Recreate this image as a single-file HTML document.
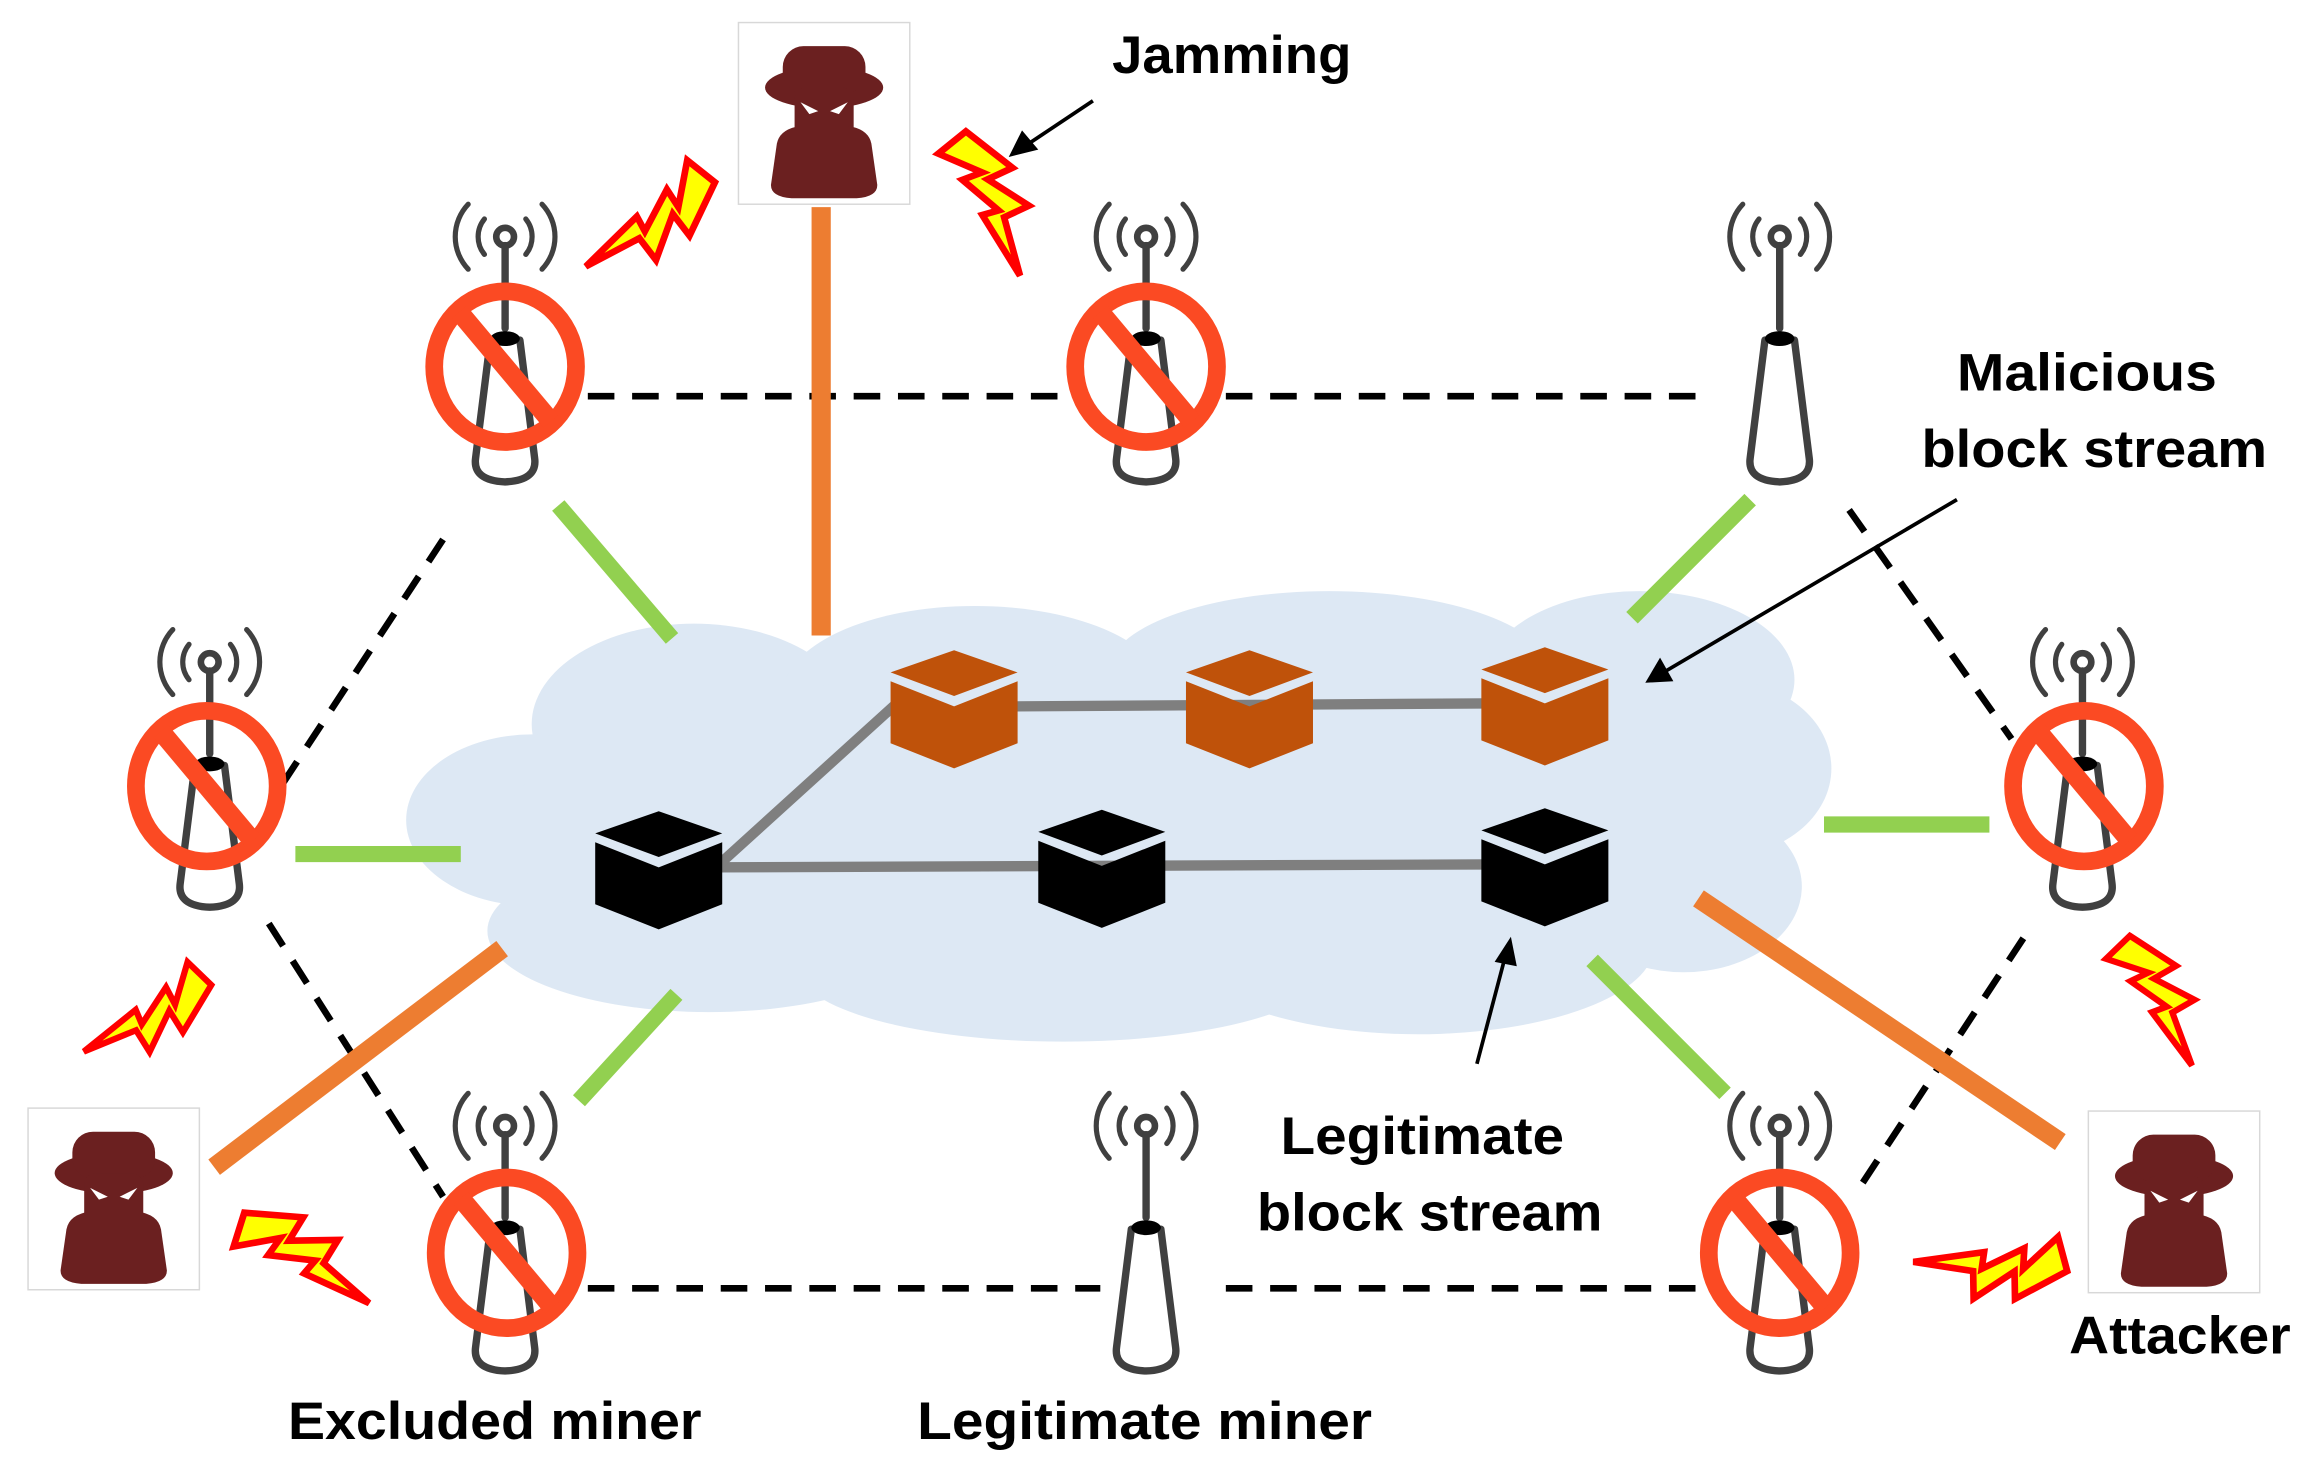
<!DOCTYPE html>
<html><head><meta charset="utf-8"><style>
html,body{margin:0;padding:0;background:#fff;}
svg{display:block;}
text{font-family:"Liberation Sans",sans-serif;font-weight:bold;fill:#000;}
</style></head><body>
<svg width="2304" height="1460" viewBox="0 0 1560 988" xmlns="http://www.w3.org/2000/svg">
<defs>
  <g id="tower" fill="none" stroke="#404040" stroke-linecap="round">
    <circle cx="0" cy="0" r="6" stroke-width="4.5"/>
    <path d="M-14,-12 A19,19 0 0 0 -14,12 M14,-12 A19,19 0 0 1 14,12" stroke-width="3.5"/>
    <path d="M-25,-22 A32,32 0 0 0 -25,22 M25,-22 A32,32 0 0 1 25,22" stroke-width="3.5"/>
    <line x1="0" y1="6" x2="0" y2="62" stroke-width="5"/>
    <path d="M-10,70 L-20,150 Q-22,165 0,166 Q22,165 20,150 L10,70" stroke-width="5" stroke-linejoin="round"/>
    <ellipse cx="0" cy="69" rx="10" ry="5" fill="#000" stroke="none"/>
  </g>
  <g id="ban">
    <ellipse cx="0" cy="0" rx="48" ry="51" fill="none" stroke="#fb4a23" stroke-width="12"/>
    <line x1="-31" y1="-37" x2="31" y2="37" stroke="#fb4a23" stroke-width="13"/>
  </g>
  <g id="spy" fill="#6b2020">
    <rect x="0" y="0" width="116" height="123" fill="#fff" stroke="#d8d8d8" stroke-width="1"/>
    <ellipse cx="58" cy="44" rx="40" ry="14"/>
    <rect x="30" y="16" width="56" height="32" rx="14"/>
    <rect x="38" y="44" width="40" height="36" rx="8"/>
    <path d="M26,82 Q28,72 42,70 L74,70 Q88,72 90,82 L94,110 Q94,118 80,119 L36,119 Q22,118 22,110 Z"/>
    <path d="M42,54 L54,60 L48,62 Z M74,54 L62,60 L68,62 Z" fill="#fff"/>
  </g>
  <polygon id="bolt" points="0,-12 26,-18 23,-6 44,-13 41,-1 66,10 34,6 37,-1 16,3 19,-6 0,4" fill="#ffff00" stroke="#ff0000" stroke-width="3" stroke-linejoin="miter"/>
</defs>

<!-- cloud -->
<g fill="#dde8f4">
  <ellipse cx="470" cy="490" rx="110" ry="68"/>
  <ellipse cx="660" cy="470" rx="130" ry="60"/>
  <ellipse cx="900" cy="455" rx="150" ry="55"/>
  <ellipse cx="1110" cy="460" rx="105" ry="60"/>
  <ellipse cx="1165" cy="520" rx="75" ry="60"/>
  <ellipse cx="1140" cy="600" rx="80" ry="58"/>
  <ellipse cx="960" cy="640" rx="160" ry="60"/>
  <ellipse cx="720" cy="655" rx="180" ry="50"/>
  <ellipse cx="480" cy="630" rx="150" ry="55"/>
  <ellipse cx="360" cy="555" rx="85" ry="58"/>
  <ellipse cx="760" cy="560" rx="420" ry="110"/>
</g>

<!-- dashed lines -->
<g stroke="#000" stroke-width="4.5" stroke-dasharray="18,12" fill="none">
  <line x1="398" y1="268" x2="735" y2="268"/>
  <line x1="830" y1="268" x2="1160" y2="268"/>
  <line x1="398" y1="872" x2="745" y2="872"/>
  <line x1="830" y1="872" x2="1160" y2="872"/>
  <line x1="300" y1="365" x2="185" y2="540"/>
  <line x1="182" y1="625" x2="300" y2="810"/>
  <line x1="1252" y1="345" x2="1362" y2="500"/>
  <line x1="1370" y1="635" x2="1255" y2="810"/>
</g>

<!-- green links -->
<g stroke="#92d050" stroke-width="11">
  <line x1="378" y1="342" x2="455" y2="432"/>
  <line x1="200" y1="578" x2="312" y2="578"/>
  <line x1="392" y1="745" x2="458" y2="673"/>
  <line x1="1185" y1="338" x2="1105" y2="418"/>
  <line x1="1235" y1="558" x2="1347" y2="558"/>
  <line x1="1078" y1="650" x2="1168" y2="740"/>
</g>
<!-- orange links -->
<g stroke="#ed7d31" stroke-width="13">
  <line x1="556" y1="140" x2="556" y2="430"/>
  <line x1="145" y1="790" x2="340" y2="642"/>
  <line x1="1150" y1="608" x2="1395" y2="773"/>
</g>

<!-- chain lines -->
<g stroke="#7f7f7f" stroke-width="7" fill="none">
  <line x1="485" y1="587" x2="1005" y2="585"/>
  <line x1="688" y1="478" x2="1005" y2="476"/>
  <line x1="488" y1="584" x2="606" y2="477"/>
</g>

<!-- cubes -->
<g>
  <g fill="#bf520a">
    <path d="M646,440 L689,455 L646,471 L603,455 Z M603,461 L646,478 L689,461 L689,503 L646,520 L603,503 Z"/>
    <path d="M846,440 L889,455 L846,471 L803,455 Z M803,461 L846,478 L889,461 L889,503 L846,520 L803,503 Z"/>
    <path d="M1046,438 L1089,453 L1046,469 L1003,453 Z M1003,459 L1046,476 L1089,459 L1089,501 L1046,518 L1003,501 Z"/>
  </g>
  <g fill="#000">
    <path d="M446,549 L489,564 L446,580 L403,564 Z M403,570 L446,587 L489,570 L489,612 L446,629 L403,612 Z"/>
    <path d="M746,548 L789,563 L746,579 L703,563 Z M703,569 L746,586 L789,569 L789,611 L746,628 L703,611 Z"/>
    <path d="M1046,547 L1089,562 L1046,578 L1003,562 Z M1003,568 L1046,585 L1089,568 L1089,610 L1046,627 L1003,610 Z"/>
  </g>
</g>

<!-- towers -->
<use href="#tower" x="342" y="160"/>
<use href="#tower" x="776" y="160"/>
<use href="#tower" x="1205" y="160"/>
<use href="#tower" x="142" y="448"/>
<use href="#tower" x="1410" y="448"/>
<use href="#tower" x="342" y="762"/>
<use href="#tower" x="776" y="762"/>
<use href="#tower" x="1205" y="762"/>

<!-- ban signs -->
<use href="#ban" x="342" y="248"/>
<use href="#ban" x="776" y="248"/>
<use href="#ban" x="140" y="532"/>
<use href="#ban" x="1411" y="532"/>
<use href="#ban" x="343" y="848"/>
<use href="#ban" x="1205" y="848"/>

<!-- attackers -->
<use href="#spy" x="500" y="15"/>
<use href="#spy" x="19" y="750"/>
<use href="#spy" x="1414" y="752"/>

<!-- bolts -->
<use href="#bolt" transform="translate(470,112) rotate(128.5) scale(1.5)"/>
<use href="#bolt" transform="translate(640,100) rotate(51) scale(1.5)"/>
<use href="#bolt" transform="translate(131,655) rotate(134) scale(1.4)"/>
<use href="#bolt" transform="translate(160,838) rotate(17.5) scale(1.5)"/>
<use href="#bolt" transform="translate(1430,645) rotate(46) scale(1.4)"/>
<use href="#bolt" transform="translate(1395,843) rotate(165) scale(1.5)"/>

<!-- arrows -->
<g stroke="#000" stroke-width="2.5">
  <line x1="740" y1="68" x2="698" y2="96"/>
  <line x1="1325" y1="338" x2="1128" y2="454"/>
  <line x1="1000" y1="720" x2="1019" y2="648"/>
</g>
<g fill="#000">
  <polygon points="683,106 692,88 703,101"/>
  <polygon points="1114,462 1124,445 1133,461"/>
  <polygon points="1023,634 1012,651 1027,654"/>
</g>

<!-- labels -->
<text x="834" y="49" font-size="36" text-anchor="middle" textLength="162" lengthAdjust="spacingAndGlyphs">Jamming</text>
<text x="1413" y="264" font-size="36" text-anchor="middle" textLength="176" lengthAdjust="spacingAndGlyphs">Malicious</text>
<text x="1418" y="316" font-size="36" text-anchor="middle" textLength="234" lengthAdjust="spacingAndGlyphs">block stream</text>
<text x="963" y="781" font-size="36" text-anchor="middle" textLength="192" lengthAdjust="spacingAndGlyphs">Legitimate</text>
<text x="968" y="833" font-size="36" text-anchor="middle" textLength="234" lengthAdjust="spacingAndGlyphs">block stream</text>
<text x="1476" y="916" font-size="36" text-anchor="middle" textLength="150" lengthAdjust="spacingAndGlyphs">Attacker</text>
<text x="335" y="974" font-size="36" text-anchor="middle" textLength="280" lengthAdjust="spacingAndGlyphs">Excluded miner</text>
<text x="775" y="974" font-size="36" text-anchor="middle" textLength="308" lengthAdjust="spacingAndGlyphs">Legitimate miner</text>
</svg>
</body></html>
